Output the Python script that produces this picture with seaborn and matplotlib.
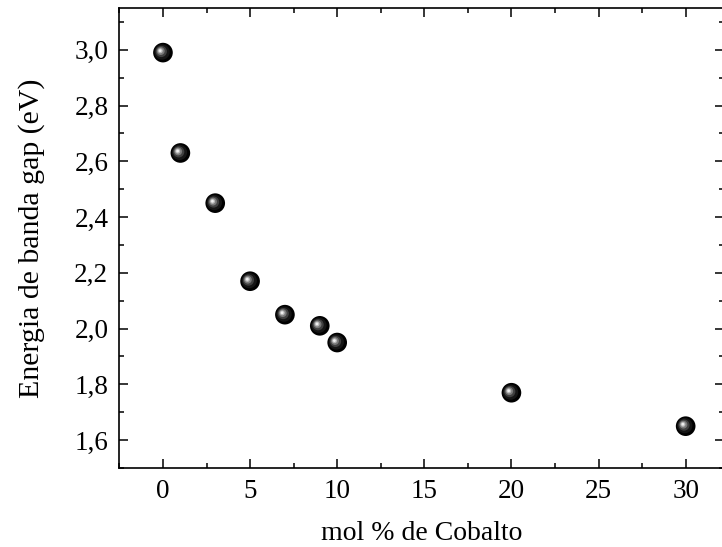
import matplotlib
matplotlib.use("Agg")
import matplotlib.pyplot as plt
import matplotlib.transforms as mtransforms
from matplotlib.ticker import MultipleLocator, FuncFormatter
import seaborn as sns
import pandas as pd

# Band-gap energy vs cobalt content
cobalt_mol_pct = [0, 1, 3, 5, 7, 9, 10, 20, 30]
band_gap_ev = [2.99, 2.63, 2.45, 2.17, 2.05, 2.01, 1.95, 1.77, 1.65]

df = pd.DataFrame({"cobalt": cobalt_mol_pct, "gap": band_gap_ev})

sns.set_theme(style="ticks")
plt.rcParams["font.family"] = ["Liberation Serif", "DejaVu Serif"]
plt.rcParams["text.color"] = "black"
plt.rcParams["axes.labelcolor"] = "black"
plt.rcParams["xtick.color"] = "black"
plt.rcParams["ytick.color"] = "black"

fig = plt.figure(figsize=(7.22, 5.47), dpi=100)
ax = fig.add_axes([119.4 / 722, 79 / 547, (724 - 119.4) / 722, (468 - 8) / 547])

# Shaded "sphere" markers: dark body with a highlight toward the upper left
layers = [
    # size, colour, x offset (pt), y offset (pt)
    (200, "#000000", 0.0, 0.0),
    (120, "#151515", -0.6, 0.4),
    (65, "#404040", -1.2, 0.8),
    (32, "#7a7a7a", -1.6, 1.1),
    (13, "#b8b8b8", -1.9, 1.3),
    (4, "#f0f0f0", -2.0, 1.4),
]
for size, colour, dx, dy in layers:
    n_before = len(ax.collections)
    sns.scatterplot(data=df, x="cobalt", y="gap", ax=ax, s=size, color=colour,
                    edgecolor="none", linewidth=0, legend=False, zorder=3)
    coll = ax.collections[n_before]
    shift = mtransforms.ScaledTranslation(dx / 72, dy / 72, fig.dpi_scale_trans)
    coll.set_offset_transform(ax.transData + shift)

ax.set_xlim(-2.5, 32.2)
ax.set_ylim(1.5, 3.15)

ax.xaxis.set_major_locator(MultipleLocator(5))
ax.xaxis.set_minor_locator(MultipleLocator(2.5))
ax.yaxis.set_major_locator(MultipleLocator(0.2))
ax.yaxis.set_minor_locator(MultipleLocator(0.1))
ax.yaxis.set_major_formatter(FuncFormatter(lambda v, p: f"{v:.1f}".replace(".", ",")))

ax.tick_params(which="both", direction="in", top=True, right=True, width=1.1,
               colors="black", labelcolor="black", labelsize=19.5)
ax.tick_params(which="major", length=6.5, pad=8)
ax.tick_params(which="minor", length=3.5)

for side in ax.spines.values():
    side.set_linewidth(1.2)
    side.set_color("black")
    side.set_visible(True)

ax.set_xlabel("mol % de Cobalto", fontsize=20, labelpad=12, color="black")
ax.set_ylabel("Energia de banda gap (eV)", fontsize=21.5, labelpad=21, color="black")

fig.savefig("out.png", dpi=100, facecolor="white")
